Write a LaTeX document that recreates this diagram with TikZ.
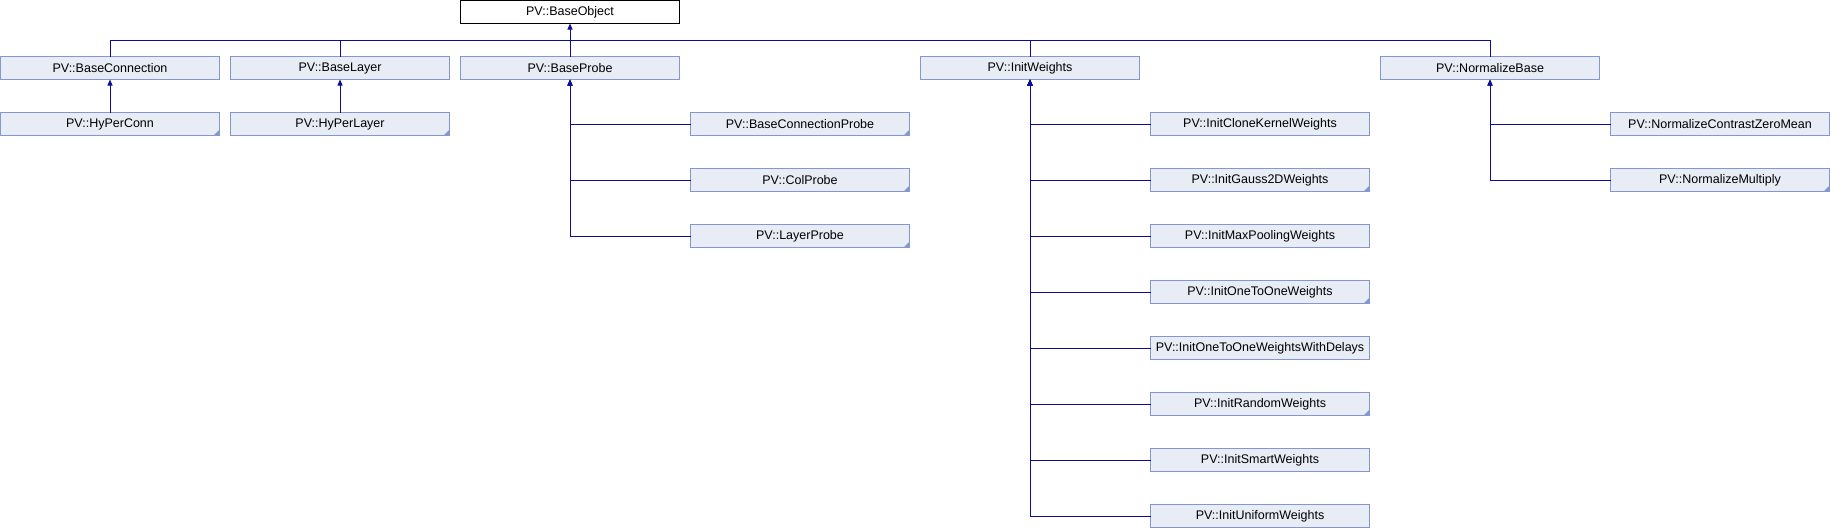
\documentclass[tikz,border=0pt]{standalone}
\usepackage{fontspec}
\setmainfont{Liberation Sans}
\usetikzlibrary{arrows.meta}
\definecolor{myblue}{RGB}{12,12,150}
\definecolor{myfill}{RGB}{232,236,245}
\definecolor{myedge}{RGB}{132,151,207}

\begin{document}
\begin{tikzpicture}[x = 1pt, y = -1pt]
\tikzstyle{every node} = [font = \fontsize{12.5}{14}\selectfont]
\tikzstyle{cls} = [draw = myedge, fill = myfill, line width = 1pt, minimum width = 219pt, minimum height = 23pt, inner sep = 0pt, outer sep = 0pt]
\tikzstyle{link} = [myblue, line width = 1pt]
\tikzstyle{inh} = [link, -{Triangle[length = 6pt, width = 5pt]}]
\useasboundingbox (0,0) rectangle (1830,528);

\node [cls, draw = black, fill = white] (obj) at (570,12) {PV::BaseObject};

% first level
\foreach \c/\n/\t in {0/bconn/BaseConnection, 1/blayer/BaseLayer, 2/bprobe/BaseProbe, 4/iw/InitWeights, 6/nbase/NormalizeBase}
{
	\node [cls] (\n) at (110+230*\c, 68) {PV::\t};
}
\coordinate (bus) at (570,40);
\foreach \n in {bconn, blayer, bprobe, iw, nbase}
{
	\draw [link] (\n.north) |- (bus);
}
\draw [inh] (bus) -- (obj.south);

% hyper classes
\node [cls] (hconn) at (110,124) {PV::HyPerConn};
\node [cls] (hlayer) at (340,124) {PV::HyPerLayer};
\draw [inh] (hconn.north) -- (bconn.south); %conn to base
\draw [inh] (hlayer.north) -- (blayer.south); %layer to base

% probes
\foreach \r/\n/\t in {2/bcprobe/BaseConnectionProbe, 3/colprobe/ColProbe, 4/lprobe/LayerProbe}
{
	\node [cls] (\n) at (800, 12+56*\r) {PV::\t};
	\draw [inh] (\n.west) -| (bprobe.south);
}

% weight initializers
\foreach \r/\n/\t in {2/iclone/InitCloneKernelWeights, 3/igauss/InitGauss2DWeights, 4/imaxp/InitMaxPoolingWeights, 5/ione/InitOneToOneWeights, 6/ioned/InitOneToOneWeightsWithDelays, 7/irand/InitRandomWeights, 8/ismart/InitSmartWeights, 9/iunif/InitUniformWeights}
{
	\node [cls] (\n) at (1260, 12+56*\r) {PV::\t};
	\draw [inh] (\n.west) -| (iw.south);
}

% normalizers
\foreach \r/\n/\t in {2/nczm/NormalizeContrastZeroMean, 3/nmult/NormalizeMultiply}
{
	\node [cls] (\n) at (1720, 12+56*\r) {PV::\t};
	\draw [inh] (\n.west) -| (nbase.south);
}

% truncated marks
\foreach \n in {hconn, hlayer, bcprobe, colprobe, lprobe, igauss, ione, irand, nmult}
{
	\fill [myedge] (\n.south east) -- ++(-6,0) -- ++(6,-6) -- cycle;
}
\end{tikzpicture}
\end{document}
